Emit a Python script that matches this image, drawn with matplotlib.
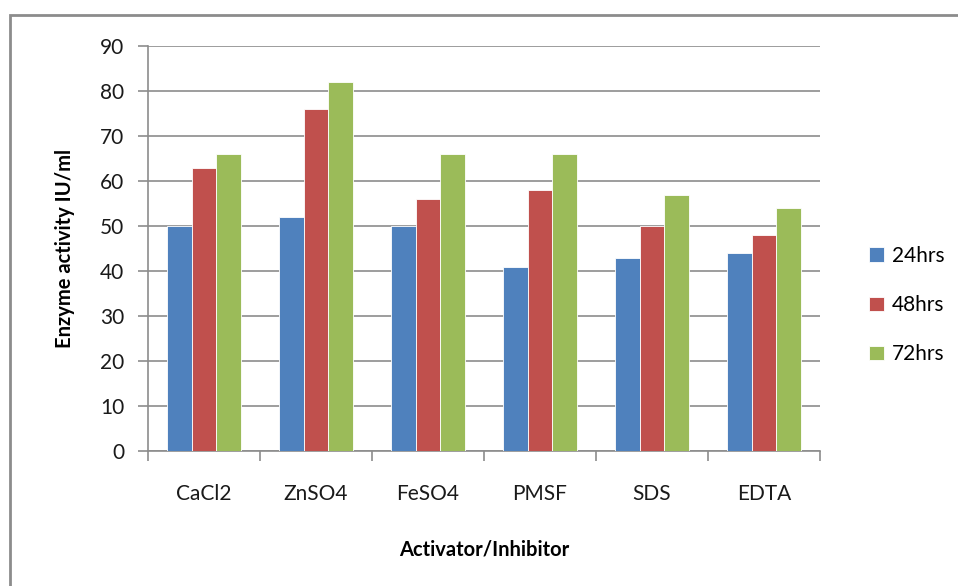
import numpy as np
import matplotlib.pyplot as plt
from matplotlib.patches import Rectangle

plt.rcParams['font.family'] = ['Lato', 'DejaVu Sans']

# Enzyme activity (IU/ml) for each activator/inhibitor after 24, 48, 72 h
agents = ['CaCl2', 'ZnSO4', 'FeSO4', 'PMSF', 'SDS', 'EDTA']
hrs_24 = [50, 52, 50, 41, 43, 44]
hrs_48 = [63, 76, 56, 58, 50, 48]
hrs_72 = [66, 82, 66, 66, 57, 54]
series_names = ['24hrs', '48hrs', '72hrs']
colors = ['#4F81BD', '#C0504D', '#9BBB59']

fig = plt.figure(figsize=(9.58, 5.86), dpi=100)
ax = fig.add_axes([148 / 958, 1 - 451 / 586, 672 / 958, 405 / 586])

# outer chart frame
fig.patches.append(Rectangle((10 / 958, -0.05), 1.0, 1 - 15 / 586 + 0.05,
                             transform=fig.transFigure, fill=False,
                             edgecolor='#8c8c8c', linewidth=2, zorder=0))

x = np.arange(len(agents))
w = 0.22
for i, (vals, name, c) in enumerate(zip([hrs_24, hrs_48, hrs_72], series_names, colors)):
    ax.bar(x + (i - 1) * w, vals, width=w, color=c, edgecolor='white',
           linewidth=0.6, label=name, zorder=3)

ax.set_xlim(-0.5, len(agents) - 0.5)
ax.set_ylim(0, 90)
ax.set_yticks(np.arange(0, 91, 10))
ax.yaxis.grid(True, color='#8c8c8c', linewidth=1.2, zorder=0)
ax.set_axisbelow(True)

for side in ['top', 'right']:
    ax.spines[side].set_visible(False)
for side in ['left', 'bottom']:
    ax.spines[side].set_color('#8c8c8c')
    ax.spines[side].set_linewidth(1.2)

# category ticks sit on the boundaries between groups
ax.set_xticks(np.arange(len(agents) + 1) - 0.5)
ax.set_xticklabels([])
ax.set_xticks(x, minor=True)
ax.set_xticklabels(agents, minor=True, fontsize=15, color='#1a1a1a')
ax.tick_params(axis='x', which='major', length=7, color='#8c8c8c', width=1.2)
ax.tick_params(axis='x', which='minor', length=0, pad=24)
ax.tick_params(axis='y', length=7, color='#8c8c8c', width=1.2, labelsize=15,
               labelcolor='#1a1a1a', pad=10)

ax.set_ylabel('Enzyme activity IU/ml', fontsize=14.5, fontweight='bold', labelpad=18)
ax.set_xlabel('Activator/Inhibitor', fontsize=14.5, fontweight='bold', labelpad=25)

ax.legend(loc='center left', bbox_to_anchor=(1.045, 0.36), frameon=False,
          fontsize=15, handlelength=0.7, handleheight=0.7, handletextpad=0.4,
          labelspacing=1.4)

fig.savefig('out.png', dpi=100)
